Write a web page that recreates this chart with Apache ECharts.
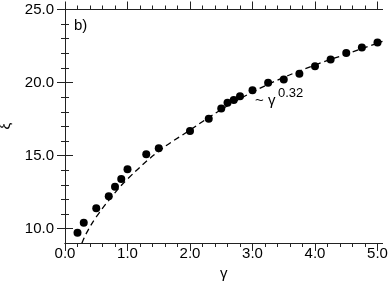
<!DOCTYPE html>
<html>
<head>
<meta charset="utf-8">
<script src="https://cdn.jsdelivr.net/npm/echarts@6/dist/echarts.min.js"></script>
<style>
html,body{margin:0;padding:0;background:#fff;}
#c{width:392px;height:285px;}
</style>
</head>
<body>
<div id="c"></div>
<script>
// measured points
const gammaPts = [0.2, 0.3, 0.5, 0.7, 0.8, 0.9, 1.0, 1.3, 1.5, 2.0, 2.3, 2.5, 2.6, 2.7, 2.8, 3.0, 3.25, 3.5, 3.75, 4.0, 4.25, 4.5, 4.75, 5.0];
const xiPts = [9.73, 10.41, 11.39, 12.22, 12.87, 13.40, 14.06, 15.09, 15.50, 16.68, 17.52, 18.22, 18.61, 18.80, 19.07, 19.48, 19.98, 20.21, 20.60, 21.12, 21.58, 22.03, 22.40, 22.74];
// dashed fit curve
const fitGamma = [0.27, 0.35, 0.5, 0.75, 1.0, 1.5, 2.0, 2.5, 3.0, 3.5, 4.0, 4.5, 5.0, 5.08];
const fitXi = [9.0, 9.75, 10.8, 12.2, 13.4, 15.3, 16.75, 18.15, 19.35, 20.35, 21.2, 21.95, 22.7, 22.82];
// ticks
const xMajor = [0, 1, 2, 3, 4, 5];
const xMinor = [0.2, 0.4, 0.6, 0.8, 1.2, 1.4, 1.6, 1.8, 2.2, 2.4, 2.6, 2.8, 3.2, 3.4, 3.6, 3.8, 4.2, 4.4, 4.6, 4.8];
const yMajor = [10, 15, 20, 25];
const yMinor = [11, 12, 13, 14, 16, 17, 18, 19, 21, 22, 23, 24];
const xRange = [0, 5.08];
const yRange = [9.02, 25];
const panelLabel = 'b)';
const annMain = '~ γ';
const annExp = '0.32';

const FONT = 'Liberation Sans';
const AX = '#222';

function xAx(pos, ticks, len, labels, extra) {
  return Object.assign({
    type: 'value', position: pos, min: xRange[0], max: xRange[1],
    axisLine: { show: true, lineStyle: { color: AX, width: 1 } },
    axisTick: { show: true, length: len, inside: false, customValues: ticks, lineStyle: { color: AX, width: 1 } },
    axisLabel: labels ? { show: true, customValues: ticks, margin: 3, color: '#000', fontFamily: FONT, fontSize: 15,
      formatter: v => Number(v).toFixed(1) } : { show: false },
    splitLine: { show: false }
  }, extra || {});
}
function yAx(pos, ticks, len, labels, extra) {
  return Object.assign({
    type: 'value', position: pos, min: yRange[0], max: yRange[1],
    axisLine: { show: true, lineStyle: { color: AX, width: 1 } },
    axisTick: { show: true, length: len, inside: false, customValues: ticks, lineStyle: { color: AX, width: 1 } },
    axisLabel: labels ? { show: true, customValues: ticks, margin: 11, color: '#000', fontFamily: FONT, fontSize: 15,
      formatter: v => Number(v).toFixed(1) } : { show: false },
    splitLine: { show: false }
  }, extra || {});
}

const chart = echarts.init(document.getElementById('c'), null, { renderer: 'canvas' });
chart.setOption({
  animation: false,
  backgroundColor: '#fff',
  grid: { left: 65, right: 9.5, top: 9.5, bottom: 42, containLabel: false, outerBoundsMode: 'none' },
  xAxis: [
    xAx('bottom', xMajor, 8, true, { name: 'γ', nameLocation: 'middle', nameGap: 23,
      nameTextStyle: { fontFamily: FONT, fontSize: 15, color: '#000' } }),
    xAx('bottom', xMinor, 4, false),
    xAx('top', xMajor, 8, false),
    xAx('top', xMinor, 4, false)
  ],
  yAxis: [
    yAx('left', yMajor, 8, true, { name: 'ξ', nameLocation: 'middle', nameGap: 52, nameRotate: 90,
      nameTextStyle: { fontFamily: FONT, fontSize: 15, color: '#000' } }),
    yAx('left', yMinor, 4, false),
    yAx('right', yMajor, 8, false),
    yAx('right', yMinor, 4, false)
  ],
  series: [
    {
      type: 'line', xAxisIndex: 0, yAxisIndex: 0,
      data: fitGamma.map((g, i) => [g, fitXi[i]]),
      smooth: 0.4, showSymbol: false, symbol: 'none',
      lineStyle: { color: '#000', width: 1.3, type: [6, 4] },
      clip: true, z: 2
    },
    {
      type: 'scatter', xAxisIndex: 0, yAxisIndex: 0,
      data: gammaPts.map((g, i) => [g, xiPts[i]]),
      symbol: 'circle', symbolSize: 8,
      itemStyle: { color: '#000', opacity: 1 }, z: 3
    }
  ],
  graphic: [
    { type: 'text', left: 74, top: 18, style: { text: panelLabel, fontFamily: FONT, fontSize: 15, fill: '#000' } },
    { type: 'text', x: 255, y: 101, style: { text: annMain, fontFamily: FONT, fontSize: 15, fill: '#000', verticalAlign: 'middle', align: 'left' } },
    { type: 'text', x: 278, y: 93, style: { text: annExp, fontFamily: FONT, fontSize: 13, fill: '#000', verticalAlign: 'middle', align: 'left' } }
  ]
});
</script>
</body>
</html>
